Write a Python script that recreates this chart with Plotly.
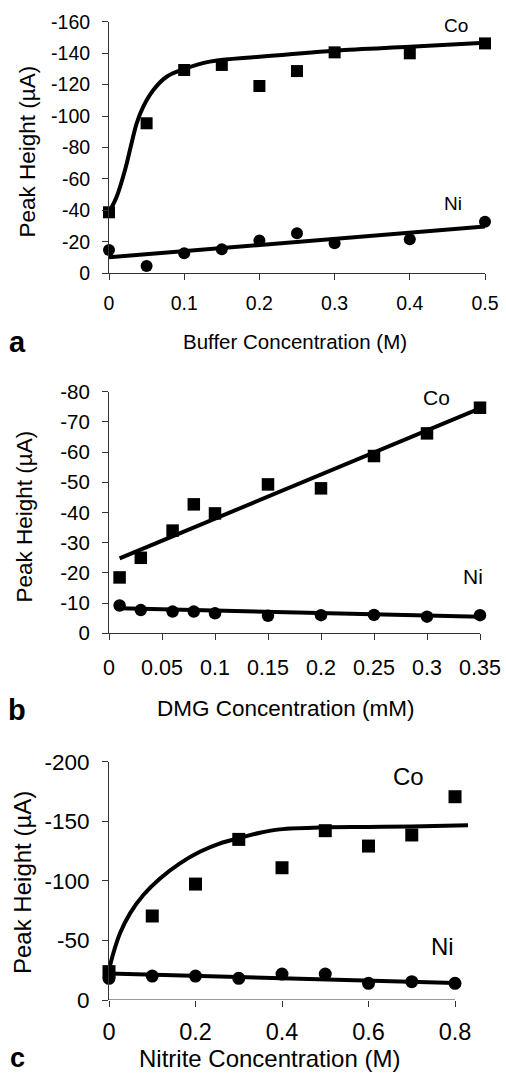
import plotly.graph_objects as go

W, H = 506, 1075
FONT = "Liberation Sans, Arial, Helvetica, sans-serif"

# ---------------- Data ----------------
# Panel a: Buffer concentration (M)
a_x = [0, 0.05, 0.1, 0.15, 0.2, 0.25, 0.3, 0.4, 0.5]
a_co = [-38.8, -95.4, -129.3, -132.5, -119.1, -128.6, -140.5, -139.9, -146.2]
a_ni = [-14.8, -4.7, -12.7, -15.3, -20.8, -25.4, -19.1, -21.6, -32.8]
a_co_fit_x = [0, 0.0102, 0.0213, 0.030, 0.0368, 0.0456, 0.059, 0.0767, 0.0988, 0.134, 0.2, 0.3, 0.4, 0.5]
a_co_fit_y = [-38.8, -48.7, -65.7, -82.7, -95.4, -106.0, -116.6, -125.0, -129.7, -134.6, -137.7, -141.6, -144.1, -146.6]
a_ni_fit_x = [0, 0.5]
a_ni_fit_y = [-10.2, -29.7]
a_xticks = [0, 0.1, 0.2, 0.3, 0.4, 0.5]
a_xlabels = ["0", "0.1", "0.2", "0.3", "0.4", "0.5"]
a_yticks = [0, -20, -40, -60, -80, -100, -120, -140, -160]
a_ylabels = ["0", "-20", "-40", "-60", "-80", "-100", "-120", "-140", "-160"]

# Panel b: DMG concentration (mM)
b_x = [0.01, 0.03, 0.06, 0.08, 0.1, 0.15, 0.2, 0.25, 0.3, 0.35]
b_co = [-18.5, -25.0, -34.0, -42.7, -39.7, -49.3, -48.0, -58.7, -66.2, -74.7]
b_ni = [-9.2, -7.7, -7.2, -7.2, -6.6, -5.8, -6.0, -6.1, -5.5, -6.0]
b_co_fit_x = [0.01, 0.35]
b_co_fit_y = [-24.8, -74.5]
b_ni_fit_x = [0.01, 0.35]
b_ni_fit_y = [-8.3, -5.5]
b_xticks = [0, 0.05, 0.1, 0.15, 0.2, 0.25, 0.3, 0.35]
b_xlabels = ["0", "0.05", "0.1", "0.15", "0.2", "0.25", "0.3", "0.35"]
b_yticks = [0, -10, -20, -30, -40, -50, -60, -70, -80]
b_ylabels = ["0", "-10", "-20", "-30", "-40", "-50", "-60", "-70", "-80"]

# Panel c: Nitrite concentration (M)
c_x = [0, 0.1, 0.2, 0.3, 0.4, 0.5, 0.6, 0.7, 0.8]
c_co = [-23.8, -70.5, -97.3, -134.8, -111.0, -142.1, -129.2, -138.5, -170.6]
c_ni = [-18.2, -20.1, -20.1, -18.2, -21.8, -21.8, -14.0, -15.4, -14.0]
c_co_fit_x = [0, 0.01, 0.0254, 0.0486, 0.0794, 0.118, 0.164, 0.21, 0.257, 0.299, 0.349, 0.395, 0.5, 0.6, 0.7, 0.83]
c_co_fit_y = [-25.2, -39.2, -56.0, -72.7, -88.1, -102.0, -114.7, -124.4, -131.5, -135.7, -140.4, -143.2, -144.9, -145.2, -145.7, -146.6]
c_ni_fit_x = [0, 0.8]
c_ni_fit_y = [-22.2, -14.3]
c_xticks = [0, 0.2, 0.4, 0.6, 0.8]
c_xlabels = ["0", "0.2", "0.4", "0.6", "0.8"]
c_yticks = [0, -50, -100, -150, -200]
c_ylabels = ["0", "-50", "-100", "-150", "-200"]


def px(x):
    return x / W


def py(y):
    return 1 - y / H


fig = go.Figure()

LW = 4
panels = [
    dict(k="", x=a_x, co=a_co, ni=a_ni, cfx=a_co_fit_x, cfy=a_co_fit_y, nfx=a_ni_fit_x, nfy=a_ni_fit_y,
         shape="spline", ms=12),
    dict(k="2", x=b_x, co=b_co, ni=b_ni, cfx=b_co_fit_x, cfy=b_co_fit_y, nfx=b_ni_fit_x, nfy=b_ni_fit_y,
         shape="linear", ms=12.5),
    dict(k="3", x=c_x, co=c_co, ni=c_ni, cfx=c_co_fit_x, cfy=c_co_fit_y, nfx=c_ni_fit_x, nfy=c_ni_fit_y,
         shape="spline", ms=13),
]

for p in panels:
    xa, ya = "x" + p["k"], "y" + p["k"]
    fig.add_trace(go.Scatter(x=p["cfx"], y=p["cfy"], mode="lines", xaxis=xa, yaxis=ya,
                             line=dict(color="black", width=LW, shape=p["shape"], smoothing=1.0),
                             showlegend=False, hoverinfo="skip"))
    fig.add_trace(go.Scatter(x=p["nfx"], y=p["nfy"], mode="lines", xaxis=xa, yaxis=ya,
                             line=dict(color="black", width=LW), showlegend=False, hoverinfo="skip"))
    fig.add_trace(go.Scatter(x=p["x"], y=p["co"], mode="markers", xaxis=xa, yaxis=ya, name="Co",
                             marker=dict(symbol="square", size=p["ms"], color="black"),
                             cliponaxis=False, showlegend=False))
    fig.add_trace(go.Scatter(x=p["x"], y=p["ni"], mode="markers", xaxis=xa, yaxis=ya, name="Ni",
                             marker=dict(symbol="circle", size=p["ms"], color="black"),
                             cliponaxis=False, showlegend=False))

AX = "#333333"


def xax(domain, anchor, rng, tv, tt, fs, standoff, showline=True):
    return dict(domain=domain, anchor=anchor, range=rng, tickvals=tv, ticktext=tt, automargin=False,
                ticks="outside", ticklen=6, tickwidth=1, tickcolor=AX,
                showline=showline, linecolor=AX, linewidth=1, showgrid=False, zeroline=False,
                tickfont=dict(family=FONT, size=fs, color="black"),
                ticklabelstandoff=standoff, fixedrange=True)


def xin(overlay, anchor, rng, tv):
    return dict(overlaying=overlay, anchor=anchor, range=rng, tickvals=tv, showticklabels=False,
                ticks="inside", ticklen=3, tickwidth=1, tickcolor=AX, side="bottom", automargin=False,
                showline=False, showgrid=False, zeroline=False, fixedrange=True)


def yax(domain, anchor, rng, tv, tt, fs, standoff):
    return dict(domain=domain, anchor=anchor, range=rng, tickvals=tv, ticktext=tt, automargin=False,
                ticks="outside", ticklen=6, tickwidth=1, tickcolor=AX,
                showline=True, linecolor=AX, linewidth=1, showgrid=False, zeroline=False,
                tickfont=dict(family=FONT, size=fs, color="black"),
                ticklabelstandoff=standoff, fixedrange=True)


fig.update_layout(
    width=W, height=H, autosize=False, margin=dict(l=0, r=0, t=0, b=0, pad=0),
    paper_bgcolor="white", plot_bgcolor="white",
    xaxis=xax([px(109), px(485)], "y", [0, 0.5], a_xticks, a_xlabels, 19.5, 6),
    yaxis=yax([py(273.3), py(21.7)], "x", [0, -160], a_yticks, a_ylabels, 19.5, 8),
    xaxis2=xax([px(109), px(480)], "y2", [0, 0.35], b_xticks, b_xlabels, 21.5, 9),
    yaxis2=yax([py(633.3), py(391.7)], "x2", [0, -80], b_yticks, b_ylabels, 20.5, 8),
    xaxis3=xax([px(109), px(468.0)], "y3", [0, 0.83], c_xticks, c_xlabels, 23.5, 5, showline=False),
    yaxis3=yax([py(1000), py(761.7)], "x3", [0, -200], c_yticks, c_ylabels, 22.5, 8),
    xaxis4=xin("x", "y", [0, 0.5], a_xticks),
    xaxis5=xin("x2", "y2", [0, 0.35], b_xticks),
    xaxis6=xin("x3", "y3", [0, 0.83], c_xticks),
)

# x axis line for panel c stops at 0.8
fig.add_shape(type="line", xref="x3", yref="y3", x0=0, x1=0.8, y0=0, y1=0,
              line=dict(color=AX, width=1))

ann = []


def text(x, y, s, size, bold=False, angle=0):
    ann.append(dict(x=px(x), y=py(y), xref="paper", yref="paper", text=("<b>%s</b>" % s) if bold else s,
                    showarrow=False, xanchor="center", yanchor="middle", textangle=angle,
                    font=dict(family=FONT, size=size, color="black")))


# axis titles
text(295, 341, "Buffer Concentration (M)", 20.5)
text(27, 151.5, "Peak Height (µA)", 22.5, angle=-90)
text(286, 708, "DMG Concentration (mM)", 22.5)
text(24, 516.5, "Peak Height (µA)", 22.5, angle=-90)
text(269, 1058, "Nitrite Concentration (M)", 24)
text(22.5, 882.5, "Peak Height (µA)", 24, angle=-90)
# panel letters
text(17, 342, "a", 29, bold=True)
text(17, 710, "b", 29, bold=True)
text(17.5, 1058, "c", 27, bold=True)
# series labels
text(455.5, 25.5, "Co", 19)
text(452.5, 203, "Ni", 19)
text(436, 397, "Co", 21)
text(473, 576, "Ni", 21)
text(408.5, 776, "Co", 24)
text(442, 946.5, "Ni", 24)

fig.update_layout(annotations=ann)

fig.write_html(
    "out.html",
    config={"responsive": False, "displayModeBar": False, "staticPlot": True},
    post_script="document.body.style.margin='0';document.body.style.overflow='hidden';",
)
